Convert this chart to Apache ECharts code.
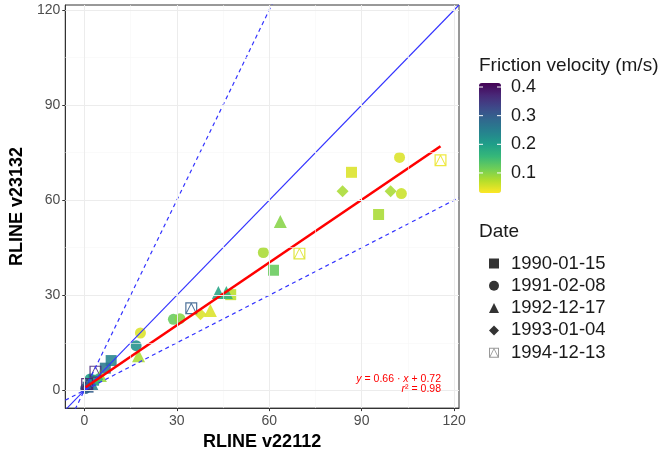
<!DOCTYPE html>
<html>
<head>
<meta charset="utf-8">
<script src="https://cdn.jsdelivr.net/npm/echarts@6/dist/echarts.min.js"></script>
<style>
  html, body { margin: 0; padding: 0; background: #ffffff; }
  #chart { width: 663px; height: 456px; }
</style>
</head>
<body>
<div id="chart"></div>
<script>
// Scenario dates shown in the shape legend
const dates = ['1990-01-15', '1991-02-08', '1992-12-17', '1993-01-04', '1994-12-13'];

// Each point: [RLINE v22112, RLINE v23132, friction velocity (m/s)]
const pts1990 = [[86.7, 68.8, 0.05], [95.5, 55.5, 0.08], [61.4, 37.9, 0.12], [47.5, 30.2, 0.07],
                 [8.7, 9.4, 0.24], [6.8, 7.0, 0.26], [3.0, 3.2, 0.22], [1.2, 1.0, 0.30]];
const pts1991 = [[102.3, 73.5, 0.05], [102.9, 62.1, 0.06], [58.1, 43.5, 0.08], [28.9, 22.4, 0.12],
                 [31.0, 22.6, 0.10], [18.2, 18.1, 0.05], [16.8, 14.1, 0.22], [1.9, 3.6, 0.20], [0.4, 0.6, 0.28]];
const pts1992 = [[63.6, 53.3, 0.10], [43.5, 30.9, 0.19], [46.1, 30.9, 0.17], [40.9, 25.2, 0.05],
                 [17.6, 10.9, 0.08], [5.2, 4.7, 0.09], [2.5, 2.0, 0.25]];
const pts1993 = [[83.8, 62.8, 0.08], [99.4, 62.8, 0.08], [37.7, 24.0, 0.05], [4.2, 3.5, 0.16], [0.8, 0.8, 0.30]];
const pts1994 = [[115.6, 72.6, 0.04], [69.8, 43.2, 0.05], [34.7, 25.9, 0.30], [3.6, 5.9, 0.37], [0.9, 2.0, 0.38]];

// Axis ticks and grid
const tickValues = [0, 30, 60, 90, 120];
const minorValues = [15, 45, 75, 105];
const xLimits = [-6.2, 121.6];
const yLimits = [-5.6, 121.6];

// Colour bar
const ustarRange = [0.03, 0.414];
const ustarTicks = [0.1, 0.2, 0.3, 0.4];
const viridis = ['#fde725', '#b5de2b', '#6ece58', '#35b779', '#1f9e89',
                 '#26828e', '#31688e', '#3e4989', '#482878', '#440154'];

// Reference lines through the origin: 1:1, factor of two either way
const refSlopes = [1, 2, 0.5];
// Least-squares fit
const fitSlope = 0.66;
const fitIntercept = 0.72;
const fitR2 = 0.98;

const FONT = '"Liberation Sans", Arial, Helvetica, sans-serif';

// open square with a triangle inside (hole cut by opposite winding)
const squareTriangle = 'path://M0 0H20V20H0Z M2 2V18H18V2Z M10 0L20 20L0 20Z M10 3.6L2.6 18.4L17.4 18.4Z';

const shapes = [
  { data: pts1990, symbol: 'rect', size: 11, legendColor: '#333333' },
  { data: pts1991, symbol: 'circle', size: 11, legendColor: '#333333' },
  { data: pts1992, symbol: 'triangle', size: 13, legendColor: '#333333' },
  { data: pts1993, symbol: 'diamond', size: 12, legendColor: '#333333' },
  { data: pts1994, symbol: squareTriangle, size: 12, legendColor: '#999999' }
];

const chart = echarts.init(document.getElementById('chart'), null, { renderer: 'canvas' });

const gridLines = [];
minorValues.forEach(v => {
  gridLines.push({ xAxis: v, lineStyle: { color: '#f6f6f6', width: 0.6, type: 'solid' } });
  gridLines.push({ yAxis: v, lineStyle: { color: '#f6f6f6', width: 0.6, type: 'solid' } });
});
tickValues.forEach(v => {
  gridLines.push({ xAxis: v, lineStyle: { color: '#ececec', width: 1, type: 'solid' } });
  gridLines.push({ yAxis: v, lineStyle: { color: '#ececec', width: 1, type: 'solid' } });
});

const series = [{
  type: 'line',
  name: 'grid',
  data: [],
  silent: true,
  z: 0,
  markLine: { silent: true, symbol: 'none', label: { show: false }, animation: false, data: gridLines }
}];

shapes.forEach((s, i) => {
  series.push({
    type: 'scatter',
    name: dates[i],
    data: s.data,
    symbol: s.symbol,
    symbolSize: s.size,
    itemStyle: { color: s.legendColor, opacity: 0.88 },
    z: 2
  });
});

const allX = [].concat(pts1990, pts1991, pts1992, pts1993, pts1994).map(p => p[0]);
const fitX = [Math.min.apply(null, allX), Math.max.apply(null, allX)];

refSlopes.forEach((k, i) => {
  series.push({
    type: 'line',
    name: 'ref' + i,
    data: xLimits.map(x => [x, k * x]),
    showSymbol: false,
    silent: true,
    clip: true,
    z: 3,
    lineStyle: k === 1
      ? { color: '#3333ff', width: 1.1, type: 'solid' }
      : { color: '#3333ff', width: 1.2, type: [4, 3.5] }
  });
});

series.push({
  type: 'line',
  name: 'fit',
  data: fitX.map(x => [x, fitSlope * x + fitIntercept]),
  showSymbol: false,
  silent: true,
  z: 4,
  lineStyle: { color: '#ff0000', width: 2.6 }
});

const barTop = 83, barHeight = 110, barLeft = 479, barWidth = 22;
const graphics = [];
ustarTicks.forEach(v => {
  const y = barTop + (ustarRange[1] - v) / (ustarRange[1] - ustarRange[0]) * barHeight;
  graphics.push({ type: 'text', left: 511, top: y - 9, style: { text: v.toFixed(1), font: '18px ' + FONT, fill: '#1a1a1a' } });
  graphics.push({ type: 'line', shape: { x1: barLeft, y1: y, x2: barLeft + 4, y2: y }, style: { stroke: '#ffffff', lineWidth: 1 }, z: 100 });
  graphics.push({ type: 'line', shape: { x1: barLeft + barWidth - 4, y1: y, x2: barLeft + barWidth, y2: y }, style: { stroke: '#ffffff', lineWidth: 1 }, z: 100 });
});
graphics.push({ type: 'text', left: 479, top: 56, style: { text: 'Friction velocity (m/s)', font: '19px ' + FONT, fill: '#1a1a1a' } });
graphics.push({ type: 'text', left: 479, top: 222, style: { text: 'Date', font: '19px ' + FONT, fill: '#1a1a1a' } });
graphics.push({
  type: 'text', x: 441, y: 379, z: 50,
  style: {
    text: '{i|y} = ' + fitSlope.toFixed(2) + ' · {i|x} + ' + fitIntercept.toFixed(2),
    align: 'right', verticalAlign: 'middle', fill: '#ff0000', font: '10.5px ' + FONT,
    rich: { i: { fontStyle: 'italic', fill: '#ff0000', font: 'italic 10.5px ' + FONT } }
  }
});
graphics.push({
  type: 'text', x: 441, y: 389, z: 50,
  style: {
    text: '{i|r}² = ' + fitR2.toFixed(2),
    align: 'right', verticalAlign: 'middle', fill: '#ff0000', font: '10.5px ' + FONT,
    rich: { i: { fontStyle: 'italic', fill: '#ff0000', font: 'italic 10.5px ' + FONT } }
  }
});

const axisCommon = {
  type: 'value',
  nameLocation: 'middle',
  nameTextStyle: { fontFamily: FONT, fontSize: 18, fontWeight: 'bold', color: '#000000' },
  axisLine: { show: true, onZero: false, lineStyle: { color: '#333333', width: 1 } },
  axisTick: { show: true, length: 3, customValues: tickValues, lineStyle: { color: '#333333' } },
  axisLabel: { customValues: tickValues, fontFamily: FONT, fontSize: 14, color: '#4d4d4d' },
  splitLine: { show: false }
};

chart.setOption({
  animation: false,
  backgroundColor: '#ffffff',
  grid: { left: 65, right: 204, top: 5, bottom: 47, show: true, borderColor: '#333333', borderWidth: 1, backgroundColor: '#ffffff' },
  xAxis: Object.assign({}, axisCommon, {
    min: xLimits[0], max: xLimits[1], name: 'RLINE v22112', nameGap: 20,
    axisLabel: Object.assign({}, axisCommon.axisLabel, { margin: 6 })
  }),
  yAxis: Object.assign({}, axisCommon, {
    min: yLimits[0], max: yLimits[1], name: 'RLINE v23132', nameGap: 36,
    axisLabel: Object.assign({}, axisCommon.axisLabel, { margin: 5 })
  }),
  visualMap: {
    type: 'continuous',
    min: ustarRange[0], max: ustarRange[1],
    dimension: 2,
    seriesIndex: [1, 2, 3, 4, 5],
    inRange: { color: viridis },
    calculable: false,
    text: ['', ''],
    showLabel: false,
    itemWidth: barWidth, itemHeight: barHeight,
    left: barLeft, top: barTop,
    padding: 0,
    hoverLink: false
  },
  legend: {
    orient: 'vertical',
    left: 484, top: 249,
    itemWidth: 10, itemHeight: 10, itemGap: 3.3,
    selectedMode: false,
    data: dates.map((d, i) => ({ name: d, itemStyle: { color: shapes[i].legendColor, opacity: 1 } })),
    textStyle: { fontFamily: FONT, fontSize: 18.5, color: '#1a1a1a', lineHeight: 16, padding: [0, 0, 0, 7] }
  },
  graphic: graphics,
  series: series
});
</script>
</body>
</html>
